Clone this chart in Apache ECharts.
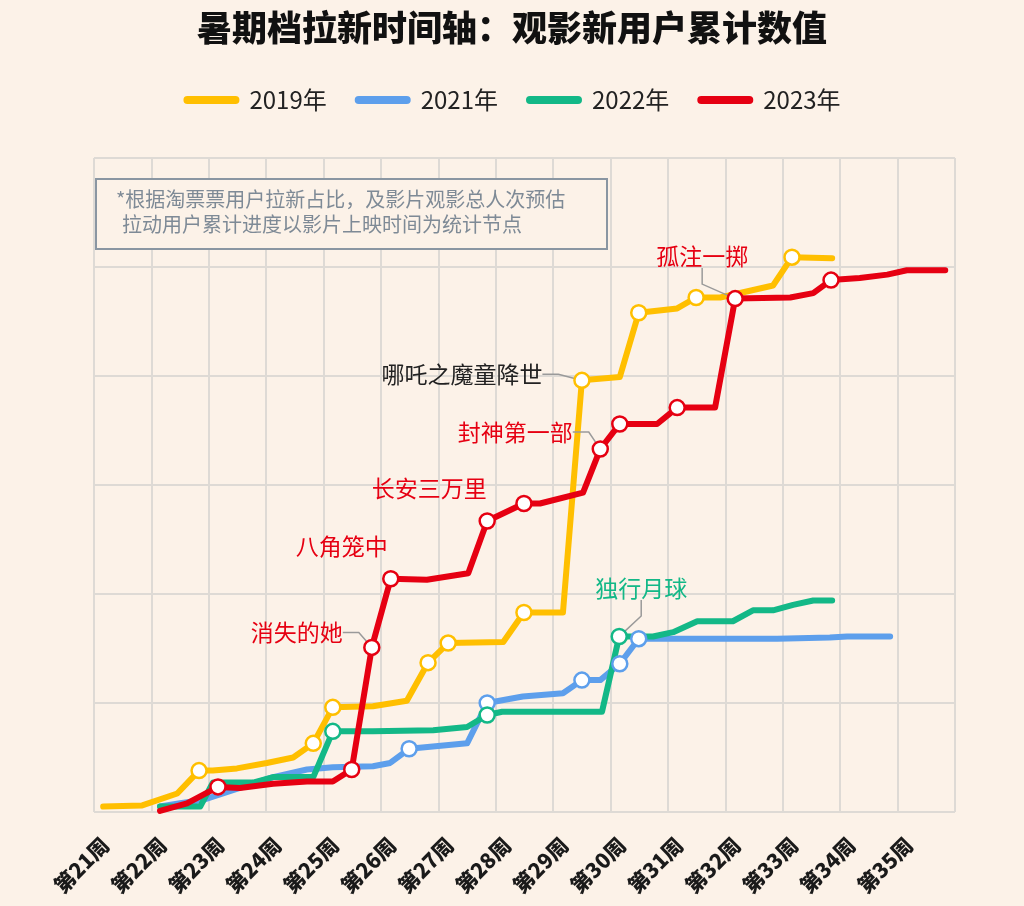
<!DOCTYPE html>
<html>
<head>
<meta charset="utf-8">
<title>暑期档拉新时间轴</title>
<script src="https://cdn.jsdelivr.net/npm/echarts@6/dist/echarts.min.js"></script>
<style>
html, body { margin: 0; padding: 0; background: #fcf2e8; }
#main { width: 1024px; height: 906px; }
</style>
</head>
<body>
<div id="main"></div>
<script>
// 周次刻度
var weekLabels = ['第21周', '第22周', '第23周', '第24周', '第25周', '第26周', '第27周', '第28周',
    '第29周', '第30周', '第31周', '第32周', '第33周', '第34周', '第35周'];
var years = ['2019年', '2021年', '2022年', '2023年'];

// [周, 累计值]
var data2019 = [[21.16, 0.05], [21.84, 0.06], [22.45, 0.17], [22.83, 0.38], [23.07, 0.38], [23.49, 0.40],
    [24.01, 0.45], [24.47, 0.50], [24.82, 0.63], [25.16, 0.96], [25.86, 0.97], [26.45, 1.02], [26.82, 1.37],
    [27.17, 1.55], [28.13, 1.56], [28.49, 1.83], [29.17, 1.83], [29.50, 3.96], [30.16, 3.99], [30.49, 4.58],
    [31.16, 4.62], [31.49, 4.72], [31.91, 4.72], [32.83, 4.83], [33.16, 5.09], [33.86, 5.08]];
var data2021 = [[22.15, 0.05], [22.50, 0.08], [22.90, 0.11], [23.42, 0.20], [24.12, 0.32], [24.71, 0.39],
    [25.16, 0.41], [25.86, 0.42], [26.16, 0.45], [26.49, 0.58], [27.50, 0.63], [27.85, 1.00], [28.47, 1.06],
    [29.17, 1.09], [29.50, 1.21], [29.82, 1.21], [30.16, 1.36], [30.49, 1.59], [31.44, 1.59], [32.90, 1.59],
    [33.82, 1.60], [34.12, 1.61], [34.87, 1.61]];
var data2022 = [[22.15, 0.05], [22.85, 0.05], [23.07, 0.27], [23.77, 0.27], [24.12, 0.32], [24.82, 0.32],
    [25.16, 0.74], [25.86, 0.74], [26.91, 0.75], [27.50, 0.78], [27.85, 0.89], [28.11, 0.92], [29.85, 0.92],
    [30.15, 1.61], [30.74, 1.61], [31.09, 1.65], [31.51, 1.75], [32.13, 1.75], [32.48, 1.85], [32.83, 1.85],
    [33.18, 1.90], [33.53, 1.94], [33.86, 1.94]];
var data2023 = [[22.15, 0.01], [22.62, 0.08], [23.16, 0.23], [23.54, 0.22], [24.12, 0.26], [24.71, 0.28],
    [25.16, 0.28], [25.49, 0.39], [25.84, 1.51], [26.17, 2.14], [26.80, 2.13], [27.52, 2.19], [27.85, 2.67],
    [28.49, 2.83], [28.77, 2.83], [29.52, 2.93], [29.82, 3.33], [30.16, 3.56], [30.81, 3.56], [31.16, 3.71],
    [31.82, 3.71], [32.17, 4.71], [33.13, 4.72], [33.53, 4.76], [33.84, 4.88], [34.34, 4.90], [34.82, 4.93],
    [35.16, 4.97], [35.83, 4.97]];

// 带圆点的节点(周)
var dots2019 = [22.83, 24.82, 25.16, 26.82, 27.17, 28.49, 29.50, 30.49, 31.49, 33.16];
var dots2021 = [26.49, 27.85, 29.50, 30.16, 30.49];
var dots2022 = [25.16, 27.85, 30.15];
var dots2023 = [23.16, 25.49, 25.84, 26.17, 27.85, 28.49, 29.82, 30.16, 31.16, 32.17, 33.84];

// 影片标注
var notes = [
    { year: '2023年', week: 25.84, text: '消失的她', dx: -75, dy: -15, line: true },
    { year: '2023年', week: 26.17, text: '八角笼中', dx: -49, dy: -32, line: false },
    { year: '2023年', week: 27.85, text: '长安三万里', dx: -58, dy: -33, line: false },
    { year: '2023年', week: 29.82, text: '封神第一部', dx: -85, dy: -17, line: true },
    { year: '2023年', week: 32.17, text: '孤注一掷', dx: -33, dy: -42, line: true },
    { year: '2019年', week: 29.50, text: '哪吒之魔童降世', dx: -120, dy: -6, line: true, color: '#222' },
    { year: '2022年', week: 30.15, text: '独行月球', dx: 22, dy: -48, line: true }
];

var bg = '#fcf2e8';
var colors = { '2019年': '#ffbf00', '2021年': '#5d9fec', '2022年': '#13b887', '2023年': '#e60012' };
var labelFont = 'Noto Sans CJK SC';

var dom = document.getElementById('main');
var myChart = echarts.init(dom);
var offsets = [];

function makeSeries(name, points, dots) {
    var color = colors[name];
    var idx = offsets.length;
    offsets.push({});
    var data = points.map(function (p, i) {
        var item = { value: p };
        if (dots.indexOf(p[0]) >= 0) {
            item.symbol = 'circle';
            item.symbolSize = 15;
            item.itemStyle = { color: '#fff' };
        }
        notes.forEach(function (n) {
            if (n.year === name && n.week === p[0]) {
                item.label = { show: true, formatter: n.text, color: n.color || color };
                item.labelLine = { show: n.line };
                offsets[idx][i] = n;
            }
        });
        return item;
    });
    return {
        name: name,
        type: 'line',
        data: data,
        symbol: 'none',
        showSymbol: true,
        lineStyle: { color: color, width: 6, cap: 'round', join: 'round' },
        itemStyle: { color: color, borderColor: color, borderWidth: 2.5 },
        label: { show: false, position: 'inside', fontSize: 23, fontFamily: labelFont },
        labelLine: { show: false, length2: 16, lineStyle: { color: '#9a9a9a', width: 1.5 } },
        labelLayout: function (params) {
            var n = offsets[idx][params.dataIndex];
            return n ? { dx: n.dx, dy: n.dy } : {};
        },
        emphasis: { disabled: true }
    };
}

var option = {
    animation: false,
    backgroundColor: bg,
    textStyle: { fontFamily: labelFont },
    title: {
        text: '暑期档拉新时间轴：观影新用户累计数值',
        left: 'center',
        top: 5,
        textStyle: { fontSize: 35, fontWeight: 900, color: '#111' }
    },
    legend: {
        data: years,
        top: 83,
        left: 'center',
        icon: 'path://M3,0 L51,0 A3,3 0 0 1 51,6 L3,6 A3,3 0 0 1 3,0 Z',
        itemWidth: 54,
        itemHeight: 6,
        itemGap: 28,
        textStyle: { fontSize: 24, color: '#222', padding: [0, 0, 0, 6] }
    },
    grid: { left: 94, right: 69, top: 158, bottom: 94 },
    xAxis: {
        type: 'value',
        min: 21,
        max: 36,
        interval: 1,
        axisLine: { show: false },
        axisTick: { show: false },
        splitLine: { show: true, lineStyle: { color: '#dedad5', width: 2 } },
        axisLabel: {
            rotate: 45,
            margin: 18,
            verticalAlign: 'top',
            lineHeight: 32,
            fontSize: 21,
            fontWeight: 900,
            color: '#1a1a1a',
            formatter: function (v) { return weekLabels[v - 21] || ''; }
        }
    },
    yAxis: {
        type: 'value',
        min: 0,
        max: 6,
        interval: 1,
        axisLine: { show: false },
        axisTick: { show: false },
        axisLabel: { show: false },
        splitLine: { show: true, lineStyle: { color: '#dedad5', width: 2 } }
    },
    graphic: [
        {
            type: 'rect', left: 95, top: 178, z: 50,
            shape: { width: 511, height: 70 },
            style: { fill: bg, stroke: '#8a96a2', lineWidth: 2 }
        },
        {
            type: 'text', left: 116, top: 189, z: 51,
            style: { text: '*根据淘票票用户拉新占比，及影片观影总人次预估', fill: '#7e8a96', font: '20px "Noto Sans CJK SC"' }
        },
        {
            type: 'text', left: 122, top: 214, z: 51,
            style: { text: '拉动用户累计进度以影片上映时间为统计节点', fill: '#7e8a96', font: '20px "Noto Sans CJK SC"' }
        }
    ],
    // 绘制顺序：2021、2022 在下，2023 在最上
    series: [
        makeSeries('2021年', data2021, dots2021),
        makeSeries('2022年', data2022, dots2022),
        makeSeries('2019年', data2019, dots2019),
        makeSeries('2023年', data2023, dots2023)
    ]
};

if (option && typeof option === 'object') {
    myChart.setOption(option, true);
}
</script>
</body>
</html>
